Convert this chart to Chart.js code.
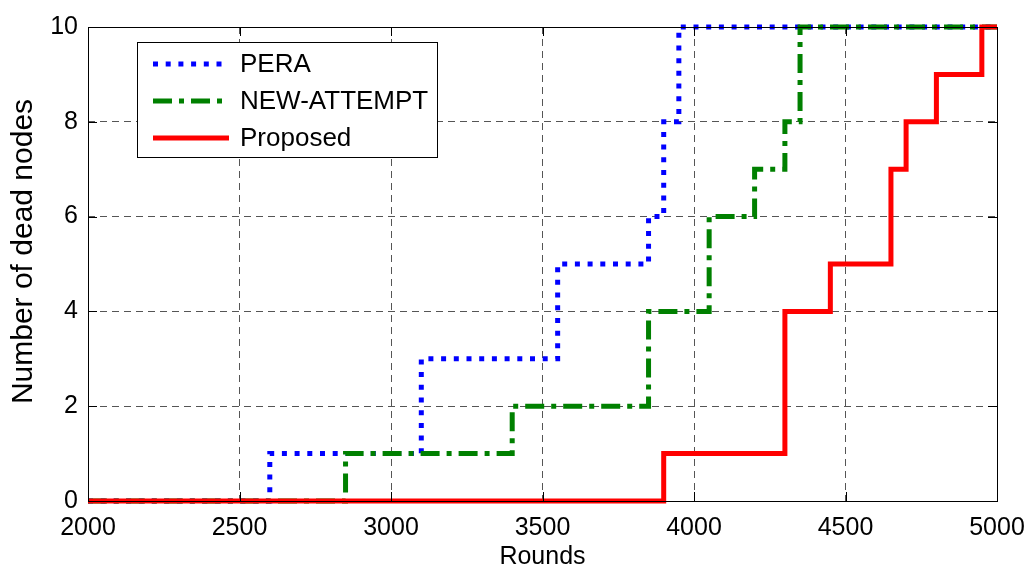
<!DOCTYPE html>
<html lang="en">
<head>
  <meta charset="UTF-8">
  <title>Number of dead nodes vs Rounds</title>
  <script src="https://cdn.jsdelivr.net/npm/chart.js"></script>
  <style>
    * { margin: 0; padding: 0; box-sizing: border-box; }
    body { width: 1027px; height: 572px; background: #ffffff; overflow: hidden; }
    .wrap { position: relative; width: 1027px; height: 572px; }
  </style>
</head>
<body>
  <div class="wrap"><canvas id="deadNodes"></canvas></div>

  <script>
    // rounds at which the count changes, and the count from that round on
    const peraRounds = [2000, 2600, 3100, 3550, 3850, 3900, 3950, 5000];
    const peraDead = [0, 1, 3, 5, 6, 8, 10, 10];
    const attemptRounds = [2000, 2850, 3400, 3850, 4050, 4200, 4300, 4350, 5000];
    const attemptDead = [0, 1, 2, 4, 6, 7, 8, 10, 10];
    const proposedRounds = [2000, 3900, 4300, 4450, 4650, 4700, 4800, 4950, 5000];
    const proposedDead = [0, 1, 4, 5, 7, 8, 9, 10, 10];
    const xTicks = [2000, 2500, 3000, 3500, 4000, 4500, 5000];
    const yTicks = [0, 2, 4, 6, 8, 10];

    const FONT = "'Liberation Sans', Arial, sans-serif";
    const pts = (xs, ys) => xs.map((x, i) => ({ x: x, y: ys[i] }));

    // MATLAB style box with inward ticks
    const boxPlugin = {
      id: 'box',
      afterDatasetsDraw(chart) {
        const { ctx, chartArea: a, scales } = chart;
        ctx.save();
        ctx.strokeStyle = '#000';
        ctx.lineWidth = 1;
        ctx.setLineDash([]);
        ctx.beginPath();
        xTicks.forEach(v => {
          const px = Math.round(scales.x.getPixelForValue(v)) + 0.5;
          ctx.moveTo(px, a.bottom); ctx.lineTo(px, a.bottom - 9);
          ctx.moveTo(px, a.top); ctx.lineTo(px, a.top + 9);
        });
        yTicks.forEach(v => {
          const py = Math.round(scales.y.getPixelForValue(v)) + 0.5;
          ctx.moveTo(a.left, py); ctx.lineTo(a.left + 9, py);
          ctx.moveTo(a.right, py); ctx.lineTo(a.right - 9, py);
        });
        ctx.stroke();
        ctx.strokeRect(Math.round(a.left) + 0.5, Math.round(a.top) + 0.5,
          Math.round(a.right - a.left), Math.round(a.bottom - a.top));
        ctx.restore();
      }
    };

    // legend box inside the axes, top left
    const legendPlugin = {
      id: 'boxLegend',
      afterDraw(chart) {
        const { ctx } = chart;
        const order = [2, 1, 0];
        const bx = 137, by = 42, bw = 300, bh = 115;
        ctx.save();
        ctx.fillStyle = '#fff';
        ctx.fillRect(bx, by, bw, bh);
        ctx.strokeStyle = '#000';
        ctx.lineWidth = 1;
        ctx.setLineDash([]);
        ctx.strokeRect(bx + 0.5, by + 0.5, bw, bh);
        order.forEach((di, row) => {
          const ds = chart.data.datasets[di];
          const y = by + 22 + row * 37;
          ctx.strokeStyle = ds.borderColor;
          ctx.lineWidth = ds.borderWidth;
          ctx.setLineDash(ds.borderDash || []);
          ctx.beginPath();
          ctx.moveTo(153, y);
          ctx.lineTo(229, y);
          ctx.stroke();
          ctx.setLineDash([]);
          ctx.fillStyle = '#000';
          ctx.font = '26px ' + FONT;
          ctx.textBaseline = 'middle';
          ctx.fillText(ds.label, 240, y + 1);
        });
        ctx.restore();
      }
    };

    new Chart(document.getElementById('deadNodes'), {
      type: 'line',
      data: {
        datasets: [
          {
            label: 'Proposed',
            data: pts(proposedRounds, proposedDead),
            borderColor: '#ff0000',
            borderWidth: 5,
            stepped: 'before',
            pointRadius: 0,
            clip: 8
          },
          {
            label: 'NEW-ATTEMPT',
            data: pts(attemptRounds, attemptDead),
            borderColor: '#008000',
            borderWidth: 5,
            borderDash: [19, 7, 5, 7],
            stepped: 'before',
            pointRadius: 0,
            clip: 8
          },
          {
            label: 'PERA',
            data: pts(peraRounds, peraDead),
            borderColor: '#0000ff',
            borderWidth: 5,
            borderDash: [5, 7.7],
            stepped: 'before',
            pointRadius: 0,
            clip: 8
          }
        ]
      },
      options: {
        responsive: true,
        maintainAspectRatio: false,
        animation: false,
        layout: { padding: { top: 27, right: 30, left: 0, bottom: 0 } },
        plugins: {
          legend: { display: false },
          tooltip: { enabled: false }
        },
        scales: {
          x: {
            type: 'linear',
            min: 2000,
            max: 5000,
            afterBuildTicks: s => { s.ticks = xTicks.map(v => ({ value: v })); },
            afterFit: s => { s.height = 71; s.paddingLeft = 0; s.paddingRight = 0; },
            grid: { color: '#555', lineWidth: 1, drawTicks: false },
            border: { display: false, dash: [7, 5] },
            ticks: { color: '#000', font: { family: FONT, size: 25 }, padding: 12, maxRotation: 0, callback: v => String(v) },
            title: { display: true, text: 'Rounds', color: '#000', font: { family: FONT, size: 25 }, padding: { top: 4, bottom: 0 } }
          },
          y: {
            min: 0,
            max: 10,
            afterBuildTicks: s => { s.ticks = yTicks.map(v => ({ value: v })); },
            afterFit: s => { s.width = 88; },
            grid: { color: '#555', lineWidth: 1, drawTicks: false },
            border: { display: false, dash: [7, 5] },
            ticks: { color: '#000', font: { family: FONT, size: 25 }, padding: 10, callback: v => String(v) },
            title: { display: true, text: '   Number of dead nodes', color: '#000', font: { family: FONT, size: 30 }, padding: { top: 6, bottom: 0 } }
          }
        }
      },
      plugins: [boxPlugin, legendPlugin]
    });
  </script>
</body>
</html>
